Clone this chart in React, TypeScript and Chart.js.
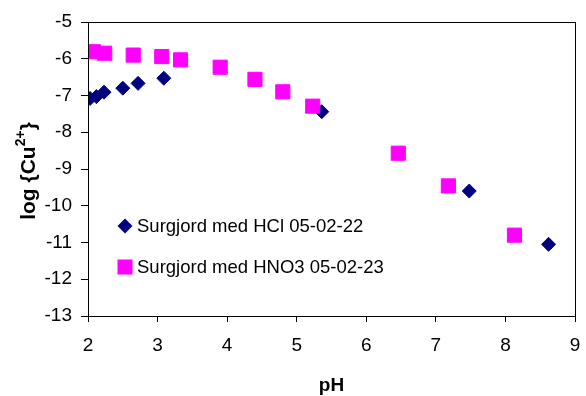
import React, { useEffect, useRef } from 'react';
import { Chart, registerables } from 'chart.js';

Chart.register(...registerables);

// ---- data ----
const hclPH = [2.03, 2.12, 2.23, 2.5, 2.72, 3.09, 5.36, 7.48, 8.62];
const hclLogCu = [-7.08, -7.03, -6.91, -6.8, -6.67, -6.53, -7.44, -9.6, -11.05];
const hno3PH = [2.08, 2.24, 2.65, 3.06, 3.33, 3.9, 4.4, 4.8, 5.23, 6.46, 7.18, 8.13];
const hno3LogCu = [-5.81, -5.85, -5.9, -5.94, -6.03, -6.23, -6.56, -6.9, -7.29, -8.57, -9.46, -10.8];
const seriesLabels = ['Surgjord med HCl 05-02-22', 'Surgjord med HNO3 05-02-23'];
const xTitle = 'pH';
const yTitleParts = ['log {Cu', '2+', '}'];
const xRange = [2, 9];
const yRange = [-13, -5];

const NAVY = '#000080';
const MAGENTA = '#FF00FF';
const FONT = '"Liberation Sans", Arial, sans-serif';

const toPoints = (xs: number[], ys: number[]) => xs.map((x, i) => ({ x, y: ys[i] }));

const decorPlugin = {
  id: 'decor',
  afterDraw(chart: any) {
    const { ctx, chartArea } = chart;
    const { left, right, top, bottom } = chartArea;
    ctx.save();
    // frame
    ctx.strokeStyle = '#000';
    ctx.lineWidth = 1;
    ctx.strokeRect(Math.round(left) + 0.5, Math.round(top) + 0.5, Math.round(right - left), Math.round(bottom - top));

    // legend
    ctx.font = `18.5px ${FONT}`;
    ctx.textBaseline = 'middle';
    ctx.textAlign = 'left';
    const mx = left + 37;
    const tx = left + 49;
    const y1 = top + 204;
    const y2 = top + 245;
    ctx.fillStyle = NAVY;
    ctx.beginPath();
    ctx.moveTo(mx - 7.5, y1);
    ctx.lineTo(mx, y1 - 7.5);
    ctx.lineTo(mx + 7.5, y1);
    ctx.lineTo(mx, y1 + 7.5);
    ctx.closePath();
    ctx.fill();
    ctx.fillStyle = MAGENTA;
    ctx.fillRect(mx - 7.5, y2 - 7.5, 15, 15);
    ctx.fillStyle = '#000';
    ctx.fillText(seriesLabels[0], tx, y1 + 1);
    ctx.fillText(seriesLabels[1], tx, y2 + 1);

    // x title
    ctx.font = `bold 19px ${FONT}`;
    ctx.textAlign = 'center';
    ctx.textBaseline = 'alphabetic';
    ctx.fillText(xTitle, (left + right) / 2, 391);

    // y title (rotated with superscript)
    const mainFont = `bold 21px ${FONT}`;
    const supFont = `bold 14px ${FONT}`;
    ctx.font = mainFont;
    const w0 = ctx.measureText(yTitleParts[0]).width;
    const w2 = ctx.measureText(yTitleParts[2]).width;
    ctx.font = supFont;
    const w1 = ctx.measureText(yTitleParts[1]).width;
    const total = w0 + w1 + w2;
    ctx.translate(28, (top + bottom) / 2 + 2);
    ctx.rotate(-Math.PI / 2);
    ctx.textAlign = 'left';
    let cx = -total / 2;
    ctx.font = mainFont;
    ctx.fillText(yTitleParts[0], cx, 7);
    cx += w0;
    ctx.font = supFont;
    ctx.fillText(yTitleParts[1], cx, -3);
    cx += w1;
    ctx.font = mainFont;
    ctx.fillText(yTitleParts[2], cx, 7);
    ctx.restore();
  },
};

export default function App() {
  const ref = useRef<HTMLCanvasElement | null>(null);
  useEffect(() => {
    if (!ref.current) return;
    const chart = new Chart(ref.current, {
      type: 'scatter',
      data: {
        datasets: [
          {
            label: seriesLabels[0],
            data: toPoints(hclPH, hclLogCu),
            pointStyle: 'rectRot',
            pointRadius: 7,
            backgroundColor: NAVY,
            borderColor: NAVY,
            borderWidth: 1,
            order: 2,
          },
          {
            label: seriesLabels[1],
            data: toPoints(hno3PH, hno3LogCu),
            pointStyle: 'rect',
            pointRadius: 10,
            backgroundColor: MAGENTA,
            borderColor: MAGENTA,
            borderWidth: 1,
            order: 1,
          },
        ],
      },
      options: {
        responsive: false,
        animation: false,
        events: [],
        layout: { padding: { left: 0, top: 22, right: 8, bottom: 0 } },
        plugins: { legend: { display: false }, tooltip: { enabled: false } },
        scales: {
          x: {
            type: 'linear',
            min: xRange[0],
            max: xRange[1],
            afterFit: (s: any) => { s.height = 80; s.paddingLeft = 0; s.paddingRight = 0; },
            ticks: { stepSize: 1, color: '#000', font: { size: 19, family: FONT }, padding: 12, maxRotation: 0 },
            grid: { drawOnChartArea: false, drawTicks: true, tickLength: 6, color: '#000' },
            border: { color: '#000', width: 1 },
          },
          y: {
            type: 'linear',
            min: yRange[0],
            max: yRange[1],
            afterFit: (s: any) => { s.width = 88; s.paddingTop = 0; s.paddingBottom = 0; },
            ticks: { stepSize: 1, color: '#000', font: { size: 19, family: FONT }, padding: 9 },
            grid: { drawOnChartArea: false, drawTicks: true, tickLength: 7, color: '#000' },
            border: { color: '#000', width: 1 },
          },
        },
      },
      plugins: [decorPlugin],
    } as any);
    return () => chart.destroy();
  }, []);
  return (
    <div style={{ position: 'absolute', left: 0, top: 0, width: 586, height: 396, background: '#fff' }}>
      <canvas ref={ref} width={586} height={396} style={{ display: 'block' }} />
    </div>
  );
}
